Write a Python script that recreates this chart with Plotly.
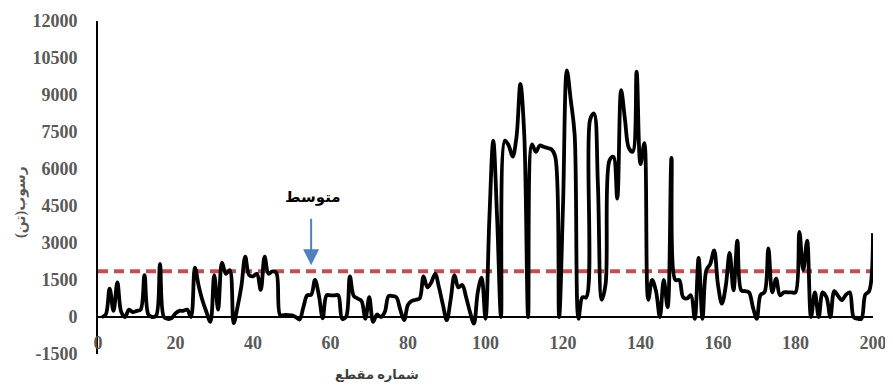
import plotly.graph_objects as go

# Section numbers (x) and sediment values (tons)
section = list(range(1, 201))
sediment = [
    0, 100, 1150, 250, 1400, 200, 0, 300, 200, 250,            # 1-10
    300, 1700, 100, 0, 50, 2150, 0, -80, -50, 150,              # 11-20
    250, 250, 300, 0, 2000, 1250, 650, 200, -200, 1700,         # 21-30
    300, 2200, 1750, 1900, -250, 400, 1250, 2450, 1700, 1650,   # 31-40
    1750, 1100, 2450, 1750, 1850, 1800, 80, 80, 80, 70,         # 41-50
    0, -100, 400, 880, 900, 1500, 880, -50, 880, 880,           # 51-60
    880, 880, -70, 0, 1650, 850, 750, 650, -70, 800,            # 61-70
    -200, 100, 0, 200, 850, 850, 800, 300, -130, 500,           # 71-80
    650, 700, 750, 1650, 1200, 1400, 1750, 1200, 500, -130,     # 81-90
    700, 1700, 1200, 1300, 800, 200, -270, 1000, 1600, -70,     # 91-100
    4000, 7150, 4000, 0, 7150, 6950, 6500, 7300, 9450, 7400,    # 101-110
    0, 7000, 6700, 6950, 6900, 6850, 6800, 6500, 0, 4500,       # 111-120
    10000, 8800, 7400, -70, 800, 800, 8000, 8250, 5400, 700,    # 121-130
    1350, 6350, 6500, 4800, 9200, 8000, 6850, 6700, 9950, 6200, # 131-140
    7050, 700, 1500, 1050, 0, 1500, 400, 6450, 1500, 1500,      # 141-150
    800, 750, 880, -70, 2400, -70, 1900, 2150, 2700, 1300,      # 151-160
    540, 1250, 2600, 1080, 3100, 1080, 1050, 1000, 400, -70,    # 161-170
    900, 1000, 2780, 1000, 1550, 880, 1000, 1000, 1000, 1000,   # 171-180
    3450, 1900, 3100, 0, 1000, 0, 1000, 800, 0, 1050,           # 181-190
    850, 680, 900, 1000, 0, -70, -70, 900, 1050, 3400,          # 191-200
]
mean_value = 1850
mean_x = [0, 200]

x_ticks = list(range(0, 201, 20))
y_ticks = list(range(-1500, 12001, 1500))

x_title = "شماره مقطع"
y_title = "رسوب(تن)\u200f"
mean_label = "متوسط"
mean_arrow_x = 55
mean_arrow_y = 2100

tick_font = dict(family="Liberation Serif, Times New Roman, serif", size=18,
                 color="#595959", weight="bold")
ar_font = "Liberation Serif, DejaVu Sans, serif"

# The page body adds an 8px margin, so the figure is 8px smaller on each side
PAGE_OFF = 8
L, R, T, B = 98 - PAGE_OFF, 20, 21 - PAGE_OFF, 33
W, H = 893 - PAGE_OFF, 387 - PAGE_OFF
PW, PH = W - L - R, H - T - B

fig = go.Figure()
fig.add_trace(go.Scatter(
    x=mean_x, y=[mean_value, mean_value], mode="lines",
    line=dict(color="#c0504d", width=4, dash="10px,6px"),
    hoverinfo="skip", showlegend=False))
fig.add_trace(go.Scatter(
    x=section, y=sediment, mode="lines",
    line=dict(color="black", width=3.8, shape="spline", smoothing=1.0),
    showlegend=False))

fig.add_annotation(x=mean_arrow_x, y=mean_arrow_y, xref="x", yref="y",
                   text="", showarrow=True, ax=0, ay=-48,
                   arrowcolor="#4f81bd", arrowwidth=2, arrowhead=2, arrowsize=1.6)
fig.add_annotation(x=55.6, y=4850, xref="x", yref="y", text=mean_label,
                   showarrow=False, xanchor="center", yanchor="middle",
                   font=dict(family=ar_font, size=15, color="black", weight="bold"))
fig.add_annotation(x=(377 - 98) / PW, y=(354 - 374) / PH, xref="paper", yref="paper",
                   text=x_title, showarrow=False, xanchor="center", yanchor="middle",
                   font=dict(family=ar_font, size=13, color="#404040", weight="bold"))
fig.add_annotation(x=(21 - 98) / PW, y=(354 - 202) / PH, xref="paper", yref="paper",
                   text=y_title, showarrow=False, textangle=-90,
                   xanchor="center", yanchor="middle",
                   font=dict(family=ar_font, size=14, color="#595959", weight="bold"))

fig.update_layout(
    width=W, height=H,
    margin=dict(l=L, r=R, t=T, b=B, autoexpand=False),
    paper_bgcolor="white", plot_bgcolor="white",
    xaxis=dict(range=[0, 200], tickvals=x_ticks, ticktext=[str(v) for v in x_ticks],
               anchor="free", position=1500 / 13500, automargin=False,
               showline=True, linecolor="black", linewidth=2,
               ticks="outside", ticklen=9, tickcolor="rgba(0,0,0,0)",
               showgrid=False, zeroline=False, tickfont=tick_font),
    yaxis=dict(range=[-1500, 12000], tickvals=y_ticks, ticktext=[str(v) for v in y_ticks],
               automargin=False,
               showline=True, linecolor="black", linewidth=2,
               ticks="outside", ticklen=15, tickcolor="rgba(0,0,0,0)",
               showgrid=False, zeroline=False, tickfont=tick_font),
)

fig.write_html("out.html")
